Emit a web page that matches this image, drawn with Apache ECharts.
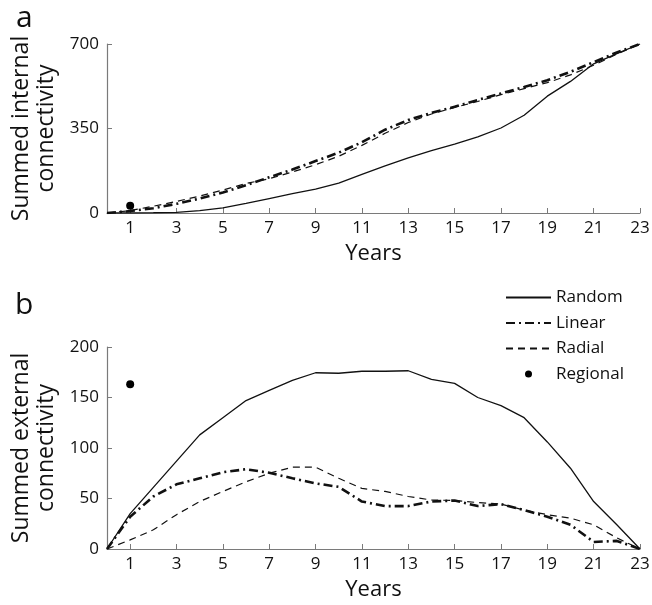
<!DOCTYPE html>
<html>
<head>
<meta charset="utf-8">
<script src="https://cdn.jsdelivr.net/npm/echarts@6/dist/echarts.min.js"></script>
<style>
html, body { margin: 0; padding: 0; background: #fff; }
#chart { width: 652px; height: 605px; }
</style>
</head>
<body>
<div id="chart"></div>
<script>
// x axis: years 0..23, labels only on odd years
const years = [0,1,2,3,4,5,6,7,8,9,10,11,12,13,14,15,16,17,18,19,20,21,22,23]
const yearTicks = [1,3,5,7,9,11,13,15,17,19,21,23]

// panel a - summed internal connectivity
const internalRandom = [0,0,1,3,10,21,40,60,80,99,124,160,195,228,258,285,315,352,405,484,545,618,660,700]
const internalLinear = [0,8,20,38,60,85,115,148,180,215,250,293,345,385,415,440,468,495,522,550,585,625,665,700]
const internalRadial = [0,10,28,48,70,95,122,142,170,200,235,280,330,375,410,437,462,490,515,540,572,612,658,700]
const internalRegional = [[1, 30]]

// panel b - summed external connectivity
const externalRandom = [0,35,61,87,113,130,147,157,167,174.5,174,176,176,176.5,168,164,150,142,130,106,80,47,24,0]
const externalLinear = [0,32,52,64,70,76,79,75.5,70,65,61.5,47,42.5,42.5,47,48,42.5,44.5,38.5,32,24,7,8,0]
const externalRadial = [0,9,19,34,47,57,66.5,75,81,81,70,60,57,52,48.5,48,46,44.5,38.5,34,30.5,24,11,0]
const externalRegional = [[1, 163]]

const font = 'Open Sans'
const axisGray = '#7a7a7a'
const ink = '#111'

function pairs(vals) {
  return years.map((y, i) => [y, vals[i]])
}

function makeXAxis(gridIndex) {
  return {
    type: 'value', gridIndex: gridIndex, min: 0, max: 23,
    axisLine: { show: true, lineStyle: { color: axisGray, width: 1.2 } },
    axisTick: { show: true, inside: true, length: 5, customValues: yearTicks, lineStyle: { color: axisGray } },
    axisLabel: { customValues: yearTicks, color: ink, fontSize: 17, fontFamily: font, margin: 7 },
    splitLine: { show: false },
    name: 'Years', nameLocation: 'middle', nameGap: 30,
    nameTextStyle: { color: ink, fontSize: 22, fontFamily: font }
  }
}

function makeYAxis(gridIndex, max, interval, name) {
  return {
    type: 'value', gridIndex: gridIndex, min: 0, max: max, interval: interval,
    axisLine: { show: true, lineStyle: { color: axisGray, width: 1.2 } },
    axisTick: { show: true, inside: true, length: 5, lineStyle: { color: axisGray } },
    axisLabel: { color: ink, fontSize: 17, fontFamily: font, margin: 8 },
    splitLine: { show: false },
    name: name, nameLocation: 'middle', nameGap: 47,
    nameTextStyle: { color: ink, fontSize: 23, fontFamily: font, lineHeight: 25 }
  }
}

function lineSeries(name, idx, data, width, type) {
  return {
    type: 'line', name: name, xAxisIndex: idx, yAxisIndex: idx,
    data: pairs(data), symbol: 'none',
    lineStyle: { color: ink, width: width, type: type },
    itemStyle: { color: ink }
  }
}

function dotSeries(idx, data) {
  return {
    type: 'scatter', name: 'Regional', xAxisIndex: idx, yAxisIndex: idx,
    data: data, symbol: 'circle', symbolSize: 8,
    itemStyle: { color: '#000', opacity: 1 }
  }
}

const linearDash = [9, 4, 2, 4]
const radialDash = [7, 5]

// legend line entries: hide the little marker that line series put in their legend icon
const noMarker = { opacity: 0 }

const chart = echarts.init(document.getElementById('chart'))
chart.setOption({
  animation: false,
  backgroundColor: '#fff',
  title: [
    { text: 'a', left: 11, top: -2, textStyle: { fontSize: 30, fontWeight: 'normal', fontFamily: font, color: ink } },
    { text: 'b', left: 10, top: 285, textStyle: { fontSize: 30, fontWeight: 'normal', fontFamily: font, color: ink } }
  ],
  grid: [
    { left: 107, right: 12, top: 44, height: 169, outerBoundsMode: 'none' },
    { left: 107, right: 12, top: 347, height: 202, outerBoundsMode: 'none' }
  ],
  xAxis: [makeXAxis(0), makeXAxis(1)],
  yAxis: [
    makeYAxis(0, 700, 350, 'Summed internal\nconnectivity'),
    makeYAxis(1, 200, 50, 'Summed external\nconnectivity')
  ],
  legend: {
    orient: 'vertical', left: 500, top: 284,
    itemWidth: 45, itemHeight: 7, itemGap: 8.5,
    textStyle: { color: ink, fontSize: 17, fontFamily: font },
    data: [
      { name: 'Random', itemStyle: noMarker },
      { name: 'Linear', itemStyle: noMarker },
      { name: 'Radial', itemStyle: noMarker },
      { name: 'Regional', icon: 'circle', itemStyle: { color: '#000', opacity: 1 } }
    ]
  },
  series: [
    lineSeries('Random', 0, internalRandom, 1.3, 'solid'),
    lineSeries('Linear', 0, internalLinear, 2.6, linearDash),
    lineSeries('Radial', 0, internalRadial, 1.2, radialDash),
    dotSeries(0, internalRegional),
    lineSeries('Random', 1, externalRandom, 1.3, 'solid'),
    lineSeries('Linear', 1, externalLinear, 2.6, linearDash),
    lineSeries('Radial', 1, externalRadial, 1.2, radialDash),
    dotSeries(1, externalRegional)
  ]
})
</script>
</body>
</html>
